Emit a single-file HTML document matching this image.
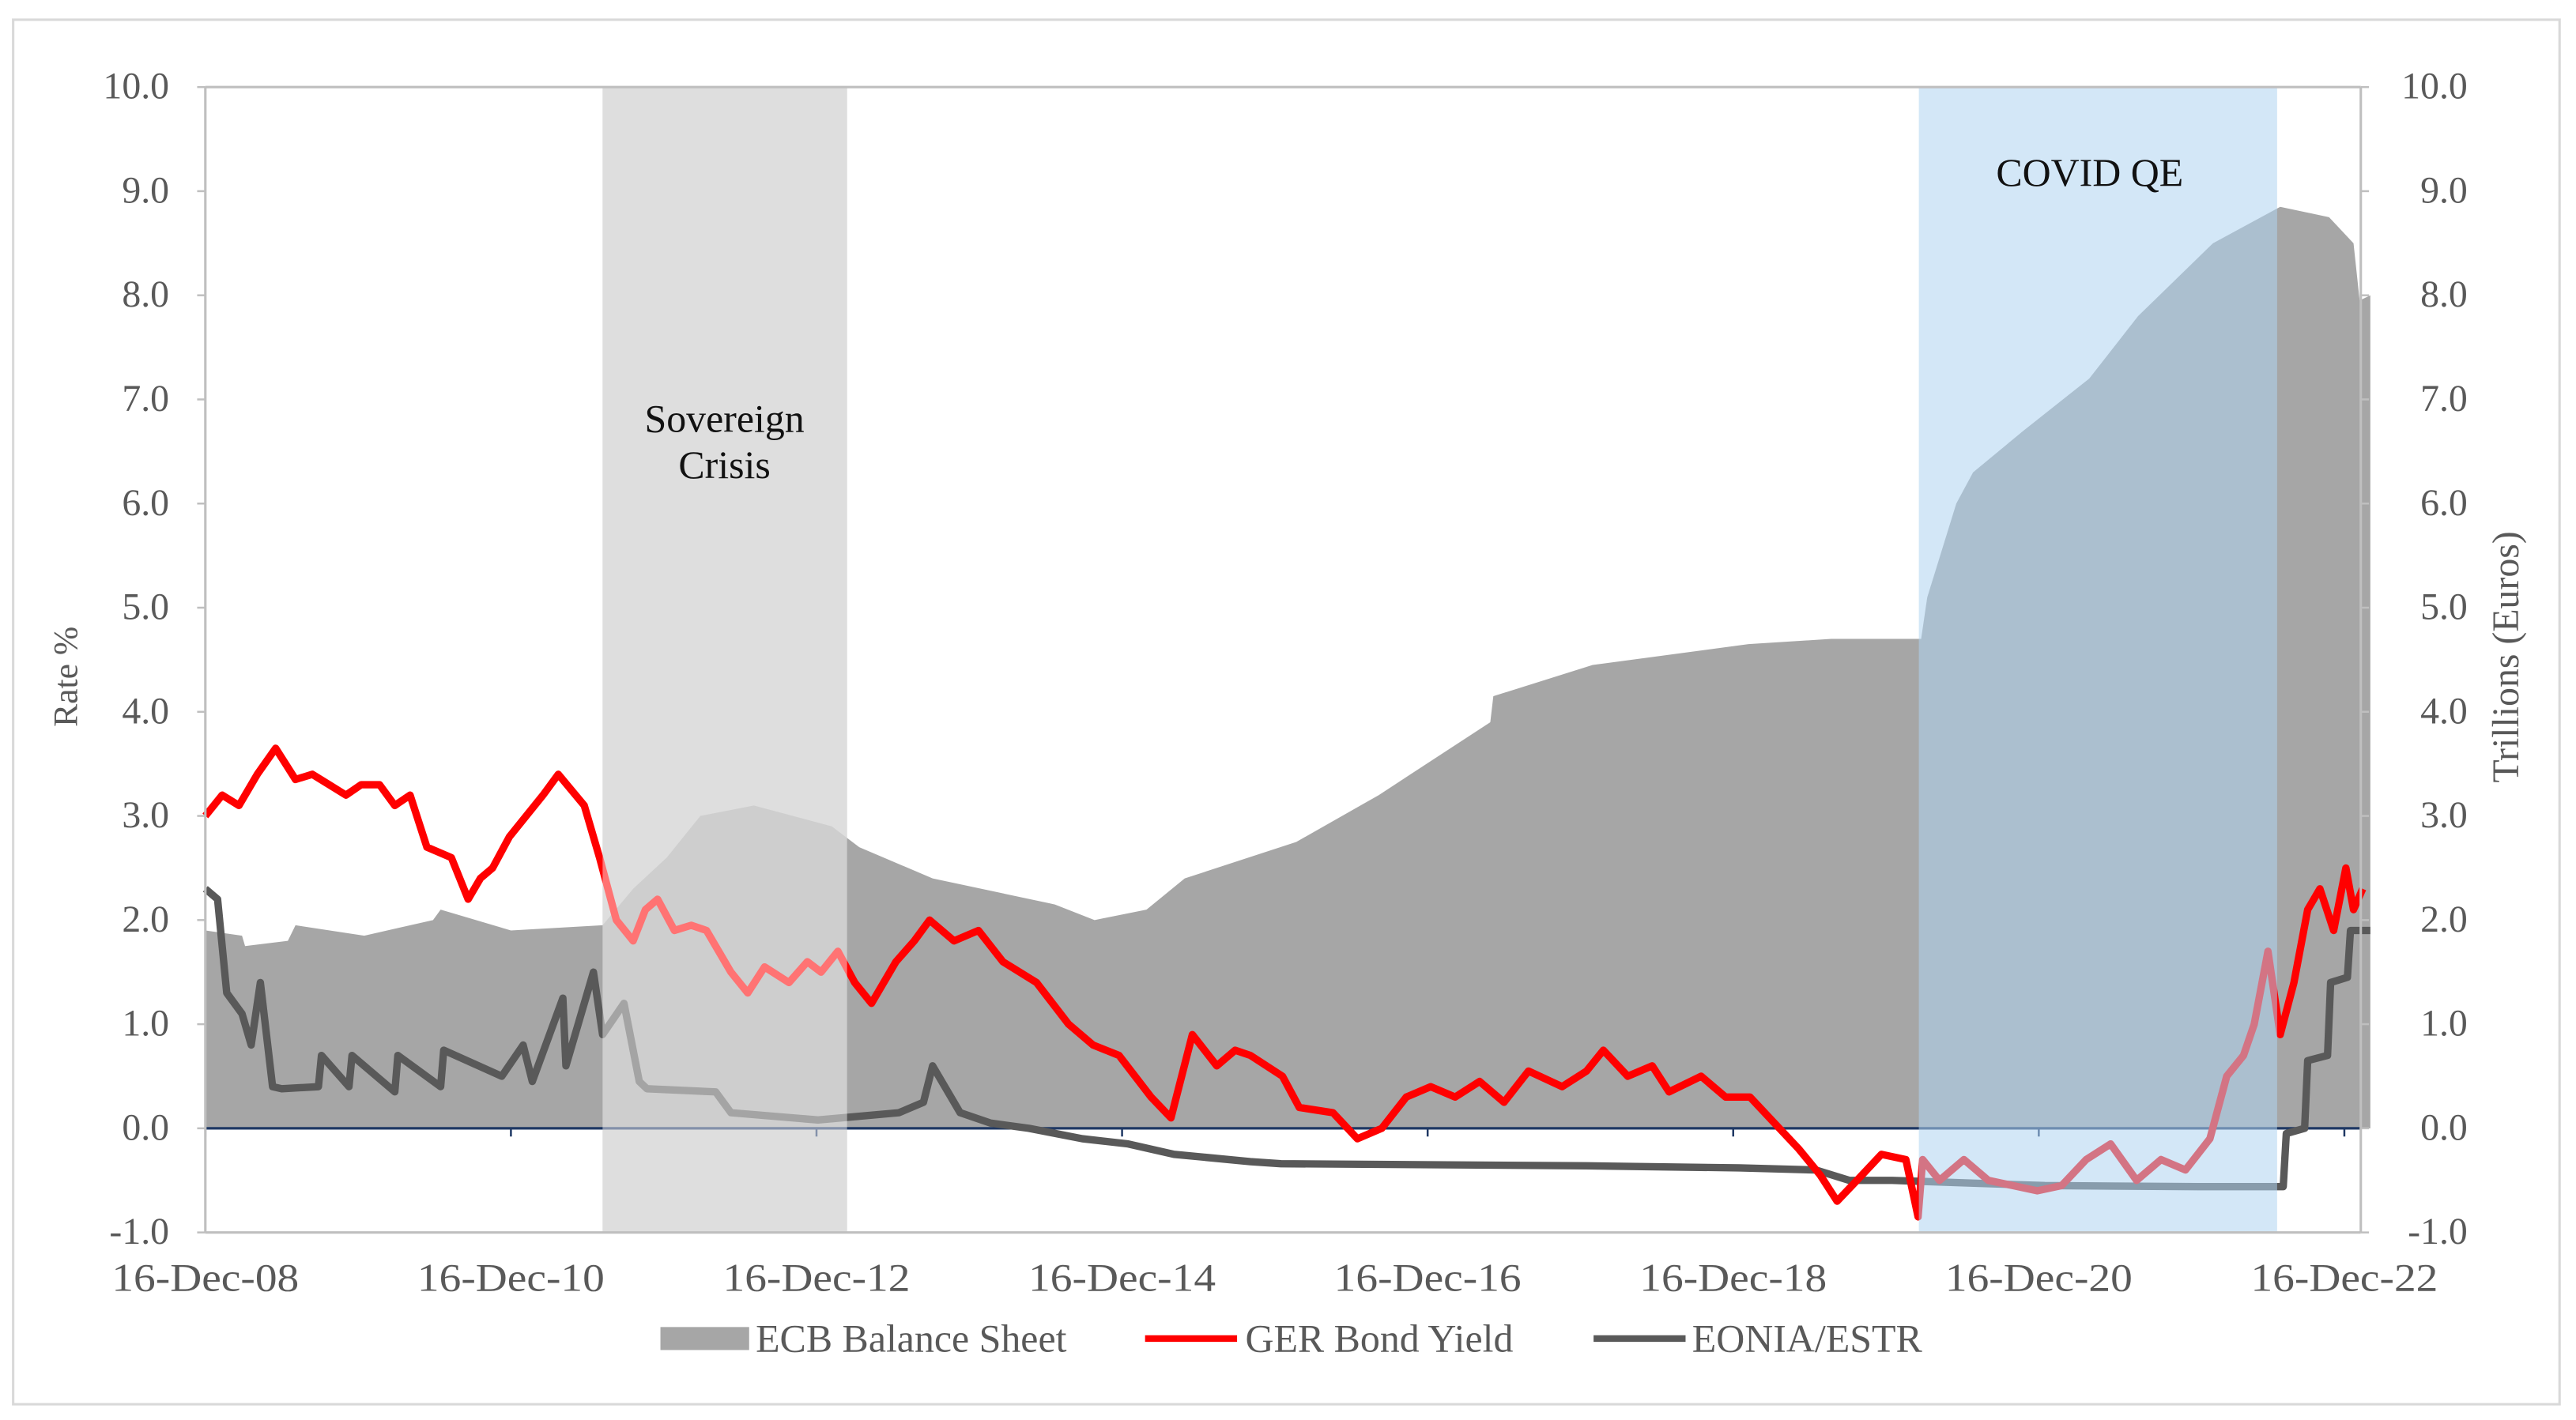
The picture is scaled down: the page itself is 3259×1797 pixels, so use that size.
<!DOCTYPE html>
<html><head><meta charset="utf-8"><style>
html,body{margin:0;padding:0;background:#fff;}
svg{display:block;}
text{font-family:"Liberation Serif",serif;fill:#595959;}
</style></head><body>
<svg id="chart" width="3259" height="1797" viewBox="0 0 1568 864.6" preserveAspectRatio="none" xmlns="http://www.w3.org/2000/svg">
<rect x="8" y="12" width="1550" height="843" fill="#fff" stroke="#d9d9d9" stroke-width="1.5"/>
<g id="under"></g>
<g id="area"></g>
<g id="lines"></g>
<g id="over"></g>
<g id="axes"></g>
</svg>
<script>
const yTicks=[-1,0,1,2,3,4,5,6,7,8,9,10];
const xTickYears=[2008.96,2010.96,2012.96,2014.96,2016.96,2018.96,2020.96,2022.96];
const xTickLabels=["16-Dec-08","16-Dec-10","16-Dec-12","16-Dec-14","16-Dec-16","16-Dec-18","16-Dec-20","16-Dec-22"];
const ecbYears=[2008.96,2009.2,2009.22,2009.5,2009.55,2010.0,2010.45,2010.5,2010.96,2011.56,2011.76,2011.98,2012.2,2012.55,2013.06,2013.24,2013.72,2014.52,2014.78,2015.12,2015.37,2016.1,2016.64,2017.37,2017.39,2018.04,2019.06,2019.6,2020.19,2020.23,2020.42,2020.53,2020.86,2021.29,2021.61,2022.1,2022.54,2022.86,2023.02,2023.06,2023.13];
const ecbValues=[1.9,1.85,1.75,1.8,1.95,1.85,2.0,2.1,1.9,1.95,2.3,2.6,3.0,3.1,2.9,2.7,2.4,2.15,2.0,2.1,2.4,2.75,3.2,3.9,4.15,4.45,4.65,4.7,4.7,5.1,6.0,6.3,6.7,7.2,7.8,8.5,8.85,8.75,8.5,7.95,8.0];
const gerYears=[2008.96,2009.07,2009.18,2009.3,2009.42,2009.55,2009.66,2009.77,2009.88,2009.98,2010.1,2010.2,2010.3,2010.41,2010.57,2010.68,2010.76,2010.84,2010.95,2011.06,2011.17,2011.27,2011.44,2011.54,2011.65,2011.76,2011.84,2011.92,2012.03,2012.14,2012.24,2012.4,2012.51,2012.62,2012.78,2012.9,2012.99,2013.1,2013.21,2013.32,2013.48,2013.6,2013.7,2013.86,2014.02,2014.18,2014.4,2014.61,2014.77,2014.94,2015.15,2015.28,2015.42,2015.58,2015.7,2015.8,2016.01,2016.12,2016.34,2016.5,2016.66,2016.82,2016.98,2017.14,2017.3,2017.46,2017.62,2017.84,2018.0,2018.11,2018.27,2018.43,2018.54,2018.75,2018.91,2019.07,2019.23,2019.39,2019.53,2019.64,2019.77,2019.93,2020.09,2020.17,2020.2,2020.31,2020.47,2020.63,2020.79,2020.95,2021.11,2021.27,2021.43,2021.6,2021.76,2021.92,2022.08,2022.19,2022.3,2022.37,2022.46,2022.54,2022.63,2022.72,2022.8,2022.89,2022.97,2023.02,2023.08];
const gerValues=[3.0,3.2,3.1,3.4,3.65,3.35,3.4,3.3,3.2,3.3,3.3,3.1,3.2,2.7,2.6,2.2,2.4,2.5,2.8,3.0,3.2,3.4,3.1,2.6,2.0,1.8,2.1,2.2,1.9,1.95,1.9,1.5,1.3,1.55,1.4,1.6,1.5,1.7,1.4,1.2,1.6,1.8,2.0,1.8,1.9,1.6,1.4,1.0,0.8,0.7,0.3,0.1,0.9,0.6,0.75,0.7,0.5,0.2,0.15,-0.1,0.0,0.3,0.4,0.3,0.45,0.25,0.55,0.4,0.55,0.75,0.5,0.6,0.35,0.5,0.3,0.3,0.05,-0.2,-0.45,-0.7,-0.5,-0.25,-0.3,-0.85,-0.3,-0.5,-0.3,-0.5,-0.55,-0.6,-0.55,-0.3,-0.15,-0.5,-0.3,-0.4,-0.1,0.5,0.7,1.0,1.7,0.9,1.4,2.1,2.3,1.9,2.5,2.1,2.3];
const eonYears=[2008.96,2009.04,2009.1,2009.2,2009.26,2009.32,2009.4,2009.46,2009.7,2009.72,2009.9,2009.92,2010.2,2010.22,2010.5,2010.52,2010.9,2011.04,2011.1,2011.3,2011.32,2011.5,2011.56,2011.7,2011.8,2011.85,2012.3,2012.4,2012.97,2013.5,2013.66,2013.72,2013.9,2014.1,2014.35,2014.7,2015.0,2015.3,2015.8,2016.0,2017.0,2018.0,2019.0,2019.5,2019.72,2020.0,2021.0,2022.0,2022.56,2022.58,2022.7,2022.72,2022.85,2022.87,2022.98,2023.0,2023.13];
const eonValues=[2.3,2.2,1.3,1.1,0.8,1.4,0.4,0.38,0.4,0.7,0.4,0.7,0.35,0.7,0.4,0.75,0.5,0.8,0.45,1.25,0.6,1.5,0.9,1.2,0.45,0.38,0.35,0.15,0.08,0.15,0.25,0.6,0.15,0.05,0.0,-0.1,-0.15,-0.25,-0.32,-0.34,-0.35,-0.36,-0.38,-0.4,-0.5,-0.5,-0.55,-0.56,-0.56,-0.05,0.0,0.65,0.7,1.4,1.45,1.9,1.9];
const crisisYears=[2011.56,2013.16];
const covidYears=[2020.175,2022.52];

const NS="http://www.w3.org/2000/svg";
const X0=125,X1=1437,Y10=53,Yn1=750.4;
const xs=yr=>X0+(yr-2008.96)*93;
const ys=v=>687-v*63.4;
function mk(tag,attrs,parent){const e=document.createElementNS(NS,tag);for(const k in attrs)e.setAttribute(k,attrs[k]);parent.appendChild(e);return e;}
const under=document.getElementById('under'),area=document.getElementById('area'),lines=document.getElementById('lines'),over=document.getElementById('over'),axes=document.getElementById('axes');

let r=mk('rect',{x:xs(crisisYears[0]),y:Y10,width:xs(crisisYears[1])-xs(crisisYears[0]),height:Yn1-Y10,fill:'#c3c3c3'},under);



let d='M'+xs(ecbYears[0])+','+ys(0);
ecbYears.forEach((y,i)=>{d+=' L'+xs(y)+','+ys(ecbValues[i]);});
d+=' L'+xs(ecbYears[ecbYears.length-1])+','+ys(0)+' Z';
let a=mk('path',{d:d,fill:'#a6a6a6'},area);



let zl=mk('line',{x1:X0,x2:X1,y1:ys(0),y2:ys(0),stroke:'#1f3864','stroke-width':1.6},lines);


xTickYears.forEach(y=>{const t=mk('line',{x1:xs(y),x2:xs(y),y1:ys(0),y2:ys(0)+5,stroke:'#1f3864','stroke-width':1.2},lines);

});

function line(yrs,vals,color,w,name){
 let p='';yrs.forEach((y,i)=>{p+=(i?' L':'M')+xs(y)+','+ys(vals[i]);});
 const e=mk('path',{d:p,fill:'none',stroke:color,'stroke-width':w,'stroke-linejoin':'round'},lines);
 
 
}
line(eonYears,eonValues,'#595959',4.5,'eonia-estr-line');
line(gerYears,gerValues,'#ff0000',4.5,'ger-bond-yield-line');

let o1=mk('rect',{x:xs(crisisYears[0]),y:Y10,width:xs(crisisYears[1])-xs(crisisYears[0]),height:Yn1-Y10,fill:'#ffffff','fill-opacity':0.45},over);


let o2=mk('rect',{x:xs(covidYears[0]),y:Y10,width:xs(covidYears[1])-xs(covidYears[0]),height:Yn1-Y10,fill:'rgb(175,212,240)','fill-opacity':0.55},over);



[[X0,Y10,X1,Y10],[X0,Yn1,X1,Yn1],[X0,Y10,X0,Yn1],[X1,Y10,X1,Yn1]].forEach(c=>{
 const l=mk('line',{x1:c[0],y1:c[1],x2:c[2],y2:c[3],stroke:'#bfbfbf','stroke-width':1.5},axes);
 
 
});
yTicks.forEach(v=>{
 const t1=mk('line',{x1:X0-5,x2:X0,y1:ys(v),y2:ys(v),stroke:'#bfbfbf','stroke-width':1.2},axes);
 
 
 const t2=mk('line',{x1:X1,x2:X1+5,y1:ys(v),y2:ys(v),stroke:'#bfbfbf','stroke-width':1.2},axes);
 
 
 const l=mk('text',{x:103,y:ys(v)+7,'text-anchor':'end','font-size':23},axes);l.textContent=v.toFixed(1);
 
 
 const rr=mk('text',{x:1502,y:ys(v)+7,'text-anchor':'end','font-size':23},axes);rr.textContent=v.toFixed(1);
 
 
});
xTickYears.forEach((y,i)=>{
 const t=mk('text',{x:xs(y),y:786,'text-anchor':'middle','font-size':24,textLength:114,lengthAdjust:'spacingAndGlyphs'},axes);t.textContent=xTickLabels[i];
 
 
});
function txt(x,y,s,size,name,attrs){const t=mk('text',Object.assign({x:x,y:y,'font-size':size},attrs||{}),axes);t.textContent=s;
 
 return t;}
txt(47,412,'Rate %',21,'y-axis-title-left',{transform:'rotate(-90 47 412)','text-anchor':'middle'});
txt(1533,400,'Trillions  (Euros)',23,'y-axis-title-right',{transform:'rotate(-90 1533 400)','text-anchor':'middle'});
txt(441,263,'Sovereign',24,'sovereign-crisis-label',{'text-anchor':'middle',style:'fill:#111'});
txt(441,291,'Crisis',24,'sovereign-crisis-label-2',{'text-anchor':'middle',style:'fill:#111'});
txt(1272,113,'COVID QE',24,'covid-qe-label',{'text-anchor':'middle',style:'fill:#111'});
let s1=mk('rect',{x:402,y:808,width:54,height:14,fill:'#a6a6a6'},axes);


txt(460,823,'ECB Balance Sheet',24,'legend-entry-ecb');
let s2=mk('line',{x1:697,x2:753,y1:815,y2:815,stroke:'#ff0000','stroke-width':4},axes);


txt(758,823,'GER Bond Yield',24,'legend-entry-ger');
let s3=mk('line',{x1:970,x2:1026,y1:815,y2:815,stroke:'#595959','stroke-width':4},axes);


txt(1030,823,'EONIA/ESTR',24,'legend-entry-eonia');
</script>
</body></html>
